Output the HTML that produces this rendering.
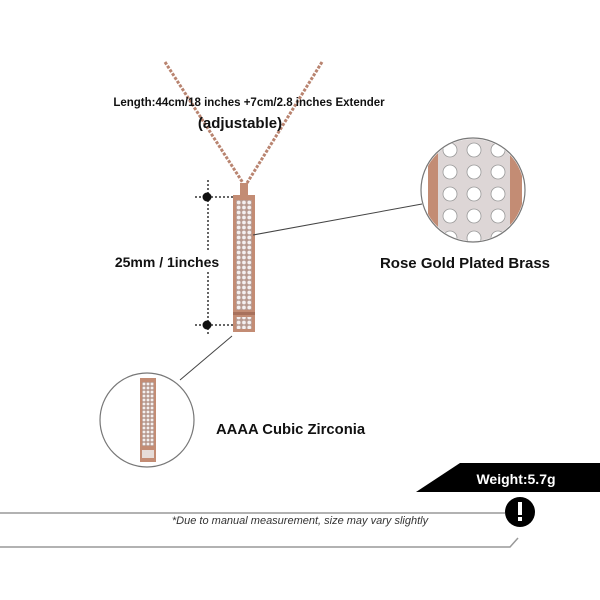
<!DOCTYPE html>
<html><head><meta charset="utf-8"><style>
body{margin:0;background:#fff;}
svg{display:block;font-family:"Liberation Sans",sans-serif;}
</style></head><body>
<svg width="600" height="600" viewBox="0 0 600 600">
<defs>
<pattern id="pave" x="236" y="200" width="5.3" height="5" patternUnits="userSpaceOnUse">
<rect width="5.3" height="5" fill="#b89a90"/>
<circle cx="2.65" cy="2.5" r="1.9" fill="#f4f0f0"/>
</pattern>
<pattern id="pave2" x="142" y="382" width="4" height="4" patternUnits="userSpaceOnUse">
<rect width="4" height="4" fill="#b89a90"/>
<circle cx="2" cy="2" r="1.4" fill="#f4f0f0"/>
</pattern>
</defs>
<!-- chain -->
<path d="M165,62 L243,183" stroke="#b98470" stroke-width="3" stroke-dasharray="3,1.5" fill="none"/>
<path d="M322,62 L247,183" stroke="#b98470" stroke-width="3" stroke-dasharray="3,1.5" fill="none"/>
<rect x="240" y="183" width="8" height="12" fill="#c38c74"/>
<!-- pendant -->
<rect x="233" y="195" width="22" height="137" fill="#c38c74"/>
<rect x="236" y="200" width="16" height="110" fill="url(#pave)"/>
<rect x="233" y="312" width="22" height="3" fill="#a8715c"/>
<rect x="236" y="317" width="16" height="12" fill="url(#pave)"/>
<!-- dimension -->
<g stroke="#333" stroke-width="1.5" stroke-dasharray="2,2" fill="none">
<line x1="208" y1="180" x2="208" y2="335"/>
<line x1="195" y1="197" x2="235" y2="197"/>
<line x1="195" y1="325" x2="235" y2="325"/>
</g>
<circle cx="207" cy="197" r="4.5" fill="#111"/>
<circle cx="207" cy="325" r="4.5" fill="#111"/>
<rect x="105" y="250" width="120" height="20" fill="#fff"/>
<text x="167" y="267" font-size="14" font-weight="bold" text-anchor="middle" fill="#111">25mm / 1inches</text>
<!-- top text -->
<text x="249" y="106" font-size="11.5" font-weight="bold" text-anchor="middle" fill="#111">Length:44cm/18 inches +7cm/2.8 inches Extender</text>
<text x="240" y="128" font-size="15" font-weight="bold" text-anchor="middle" fill="#111">(adjustable)</text>
<!-- rose gold circle -->
<line x1="253" y1="235" x2="422" y2="204" stroke="#444" stroke-width="1"/>
<circle cx="473" cy="190" r="52" fill="#fff" stroke="#777" stroke-width="1.2"/>
<clipPath id="c1"><circle cx="473" cy="190" r="51"/></clipPath>
<g clip-path="url(#c1)">
<rect x="428" y="130" width="10" height="130" fill="#c38c74"/>
<rect x="438" y="130" width="72" height="130" fill="#ddd6d6"/>
<rect x="510" y="130" width="12" height="130" fill="#c38c74"/>
<g fill="#fff" stroke="#999" stroke-width="0.8">
<circle cx="450" cy="150" r="7"/><circle cx="474" cy="150" r="7"/><circle cx="498" cy="150" r="7"/>
<circle cx="450" cy="172" r="7"/><circle cx="474" cy="172" r="7"/><circle cx="498" cy="172" r="7"/>
<circle cx="450" cy="194" r="7"/><circle cx="474" cy="194" r="7"/><circle cx="498" cy="194" r="7"/>
<circle cx="450" cy="216" r="7"/><circle cx="474" cy="216" r="7"/><circle cx="498" cy="216" r="7"/>
<circle cx="450" cy="238" r="7"/><circle cx="474" cy="238" r="7"/><circle cx="498" cy="238" r="7"/>
</g></g>
<text x="465" y="268" font-size="15" font-weight="bold" text-anchor="middle" fill="#111">Rose Gold Plated Brass</text>
<!-- zirconia circle -->
<line x1="232" y1="336" x2="180" y2="380" stroke="#444" stroke-width="1"/>
<circle cx="147" cy="420" r="47" fill="#fff" stroke="#777" stroke-width="1.2"/>
<rect x="140" y="378" width="16" height="84" fill="#c38c74"/>
<rect x="142" y="382" width="12" height="64" fill="url(#pave2)"/>
<rect x="142" y="450" width="12" height="8" fill="#e6dcd8"/>
<text x="216" y="434" font-size="14.8" font-weight="bold" fill="#111">AAAA Cubic Zirconia</text>
<!-- weight -->
<polygon points="460,463 600,463 600,492 416,492" fill="#000"/>
<text x="516" y="484" font-size="14" font-weight="bold" text-anchor="middle" fill="#fff">Weight:5.7g</text>
<!-- bottom note -->
<polyline points="0,513 505,513" stroke="#999" stroke-width="1.5" fill="none"/>
<polyline points="0,547 510,547 518,538" stroke="#999" stroke-width="1.5" fill="none"/>
<circle cx="520" cy="512" r="15" fill="#000"/>
<rect x="518" y="502" width="4" height="13" fill="#fff"/>
<rect x="518" y="517" width="4" height="4" fill="#fff"/>
<text x="300" y="524" font-size="11" font-style="italic" text-anchor="middle" fill="#333">*Due to manual measurement, size may vary slightly</text>
</svg>
</body></html>
